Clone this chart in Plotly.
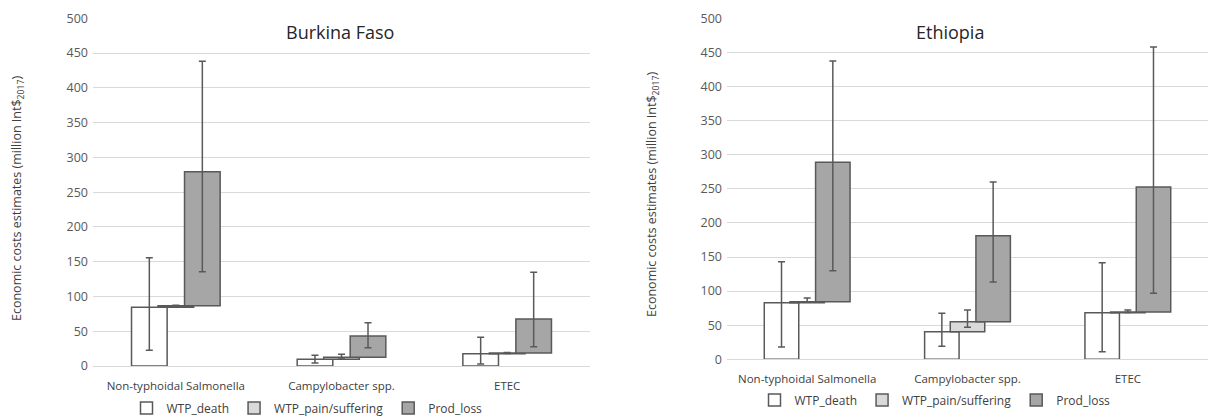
import plotly.graph_objects as go

categories = ["Non-typhoidal Salmonella", "Campylobacter spp.", "ETEC"]
series_names = ["WTP_death", "WTP_pain/suffering", "Prod_loss"]
y_ticks = [0, 50, 100, 150, 200, 250, 300, 350, 400, 450, 500]

# Burkina Faso (million Int$2017)
bf_death = [84.4, 9.6, 17.7]
bf_death_lo = [22.5, 4.3, 2.9]
bf_death_hi = [155.8, 15.4, 41.3]
bf_pain = [2.3, 2.9, 1.0]
bf_pain_lo = [85.5, 10.0, 18.0]
bf_pain_hi = [87.5, 16.8, 19.5]
bf_prod = [192.8, 30.6, 48.9]
bf_prod_lo = [135.6, 26.3, 27.8]
bf_prod_hi = [438.2, 62.3, 134.7]

# Ethiopia (million Int$2017)
et_death = [83.0, 40.5, 68.4]
et_death_lo = [18.0, 19.0, 11.2]
et_death_hi = [143.1, 67.4, 141.7]
et_pain = [1.5, 14.6, 1.0]
et_pain_lo = [83.5, 46.9, 68.8]
et_pain_hi = [89.9, 72.3, 72.3]
et_prod = [204.3, 126.1, 183.2]
et_prod_lo = [129.9, 113.3, 96.8]
et_prod_hi = [437.4, 260.0, 458.0]

FONT = "Open Sans"
EDGE = "#595959"
FILLS = ["#ffffff", "#d9d9d9", "#a6a6a6"]
BAR_W = 0.215
STEP = 0.16
OFFSETS = [-STEP - BAR_W / 2, -BAR_W / 2, STEP - BAR_W / 2]

fig = go.Figure()


def add_panel(xa, ya, legend, comps):
    base = [0.0] * len(categories)
    for k, (vals, lo, hi) in enumerate(comps):
        top = [b + v for b, v in zip(base, vals)]
        fig.add_trace(go.Bar(
            x=categories, y=vals, base=base,
            name=series_names[k], xaxis=xa, yaxis=ya, legend=legend,
            offset=OFFSETS[k], width=BAR_W,
            marker=dict(color=FILLS[k], line=dict(color=EDGE, width=1.5)),
            error_y=dict(type="data", symmetric=False,
                         array=[h - t for h, t in zip(hi, top)],
                         arrayminus=[t - l for t, l in zip(top, lo)],
                         color=EDGE, thickness=1.5, width=3.5),
            hoverinfo="skip",
        ))
        base = top


add_panel("x", "y", "legend", [(bf_death, bf_death_lo, bf_death_hi),
                                (bf_pain, bf_pain_lo, bf_pain_hi),
                                (bf_prod, bf_prod_lo, bf_prod_hi)])
add_panel("x2", "y2", "legend2", [(et_death, et_death_lo, et_death_hi),
                                   (et_pain, et_pain_lo, et_pain_hi),
                                   (et_prod, et_prod_lo, et_prod_hi)])

W, H = 1208, 416
xdom1 = [93 / W, 590 / W]
xdom2 = [727 / W, 1.0]
ydom1 = [(H - 366) / H, (H - 18.3) / H]
ydom2 = [(H - 359.3) / H, (H - 18.3) / H]

yax = dict(range=[0, 500], tickvals=y_ticks, showgrid=True, gridcolor="#d9d9d9",
           gridwidth=1, zeroline=False, showline=False, ticks="",
           tickfont=dict(family=FONT, size=12.5, color="#595959"),
           ticklabelstandoff=4, automargin=False, fixedrange=True)
xax = dict(showgrid=False, showline=True, linecolor="#d9d9d9", linewidth=1,
           ticks="", tickfont=dict(family=FONT, size=11.5, color="#404040"),
           ticklabelstandoff=9, automargin=False, fixedrange=True)

leg_font = dict(family=FONT, size=12, color="#404040")

fig.update_layout(
    width=W, height=H,
    margin=dict(l=0, r=0, t=0, b=0, pad=0, autoexpand=False),
    barmode="overlay",
    plot_bgcolor="white", paper_bgcolor="white",
    font=dict(family=FONT, color="#404040"),
    xaxis=dict(domain=xdom1, anchor="y", **xax),
    yaxis=dict(domain=ydom1, anchor="x", **yax),
    xaxis2=dict(domain=xdom2, anchor="y2", **xax),
    yaxis2=dict(domain=ydom2, anchor="x2", **yax),
    legend=dict(orientation="h", x=307 / W, xanchor="center", y=(H - 408) / H,
                yanchor="middle", font=leg_font,
                itemwidth=30, bgcolor="rgba(0,0,0,0)", traceorder="normal"),
    legend2=dict(orientation="h", x=935 / W, xanchor="center", y=(H - 400) / H,
                 yanchor="middle", font=leg_font,
                 itemwidth=30, bgcolor="rgba(0,0,0,0)", traceorder="normal"),
    showlegend=True,
    annotations=[
        dict(text="Burkina Faso", x=340 / W, y=(H - 32) / H, xref="paper", yref="paper",
             xanchor="center", yanchor="middle",
             showarrow=False, font=dict(family=FONT, size=18, color="#262626")),
        dict(text="Ethiopia", x=950 / W, y=(H - 32) / H, xref="paper", yref="paper",
             xanchor="center", yanchor="middle",
             showarrow=False, font=dict(family=FONT, size=18, color="#262626")),
        dict(text="Economic costs estimates (million Int$<sub>2017</sub>)", x=17 / W,
             y=(H - 198) / H, xref="paper", yref="paper", textangle=-90, showarrow=False,
             xanchor="center", yanchor="middle",
             font=dict(family=FONT, size=12.5, color="#404040")),
        dict(text="Economic costs estimates (million Int$<sub>2017</sub>)", x=652 / W,
             y=(H - 194) / H, xref="paper", yref="paper", textangle=-90, showarrow=False,
             xanchor="center", yanchor="middle",
             font=dict(family=FONT, size=12.5, color="#404040")),
    ],
)

fig.write_html("out.html")
